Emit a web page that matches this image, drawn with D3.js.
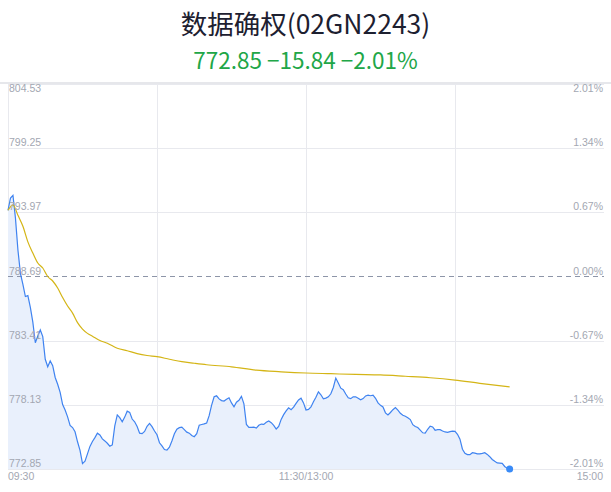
<!DOCTYPE html>
<html lang="zh">
<head>
<meta charset="UTF-8">
<title>数据确权(02GN2243)</title>
<script src="https://d3js.org/d3.v7.min.js"></script>
<style>
  html, body { margin: 0; padding: 0; background: #fff; }
  svg { display: block; }
  .tick-label { font-family: "Liberation Sans", Arial, sans-serif; font-size: 10.5px; fill: #a3a7b2; }
</style>
</head>
<body>
<div id="chart"></div>
<script>
// 分时数据: 每分钟一个点, 从 09:30 开始
const prices = [
  794.14, 795.15, 795.37, 793.49, 790.87, 788.95, 788.05, 787.04, 787.12, 786.15,
  784.94, 783.24, 783.80, 784.29, 783.74, 781.88, 781.26, 781.74, 781.35, 780.38,
  779.82, 779.16, 778.15, 777.70, 777.14, 776.44, 776.26, 775.91, 775.09, 774.38,
  773.29, 773.49, 774.09, 774.71, 775.11, 775.43, 775.80, 775.65, 775.33, 775.16,
  774.97, 774.73, 774.83, 776.40, 777.30, 777.07, 776.73, 777.12, 777.61, 777.51,
  776.96, 776.74, 776.35, 775.80, 775.76, 775.94, 776.36, 776.60, 776.34, 775.98,
  775.67, 775.01, 774.75, 774.45, 774.41, 774.64, 775.16, 775.75, 776.13, 776.25,
  776.29, 776.09, 775.88, 775.80, 775.61, 775.51, 775.76, 776.46, 776.51, 776.56,
  776.64, 777.24, 778.10, 778.79, 778.87, 778.62, 778.48, 778.44, 778.59, 778.71,
  778.29, 777.96, 778.35, 778.50, 778.83, 778.21, 776.52, 776.27, 776.28, 776.30,
  776.22, 776.45, 776.55, 776.52, 776.69, 776.80, 776.66, 776.44, 776.14, 776.36,
  776.93, 777.32, 777.63, 777.88, 777.73, 777.94, 778.25, 778.53, 778.68, 778.29,
  777.70, 777.75, 777.96, 778.38, 778.76, 779.20, 778.96, 778.62, 778.68, 778.79,
  779.04, 779.56, 780.33, 779.93, 779.50, 779.38, 779.02, 778.71, 778.64, 778.79,
  778.79, 778.67, 778.54, 778.64, 778.86, 778.92, 778.88, 778.93, 778.67, 778.29,
  778.09, 777.96, 777.47, 777.29, 777.50, 777.73, 777.90, 777.69, 777.43, 777.27,
  777.19, 777.07, 776.92, 776.50, 776.35, 776.26, 776.05, 775.83, 775.80, 776.12,
  776.37, 776.31, 776.04, 776.09, 776.09, 775.98, 775.90, 775.86, 775.92, 775.96,
  775.94, 775.71, 775.30, 774.48, 774.15, 774.04, 774.03, 774.19, 774.15, 774.09,
  774.09, 774.13, 774.19, 774.05, 773.86, 773.63, 773.48, 773.35, 773.34, 773.31,
  773.06, 772.92, 772.85
];

// 均价线 (分钟序号, 均价)
const avgMinutes = [0, 2, 4, 6, 8, 10, 12, 14, 16, 18, 20, 22, 24, 26, 28, 30, 32, 34, 37, 40,
  44, 48, 52, 56, 60, 65, 70, 75, 80, 90, 100, 110, 120, 130, 140, 150, 160, 170, 180, 190, 202];
const avgPrices = [794.14, 794.59, 793.72, 792.82, 791.54, 790.62, 789.80, 789.39, 788.69, 788.32,
  787.74, 786.96, 786.26, 785.68, 784.89, 784.36, 784.01, 783.78, 783.43, 783.20,
  782.79, 782.58, 782.35, 782.19, 782.09, 781.88, 781.68, 781.55, 781.43, 781.26,
  780.98, 780.85, 780.75, 780.69, 780.63, 780.59, 780.48, 780.36, 780.17, 779.90, 779.61];

const prevClose = 788.69;
const priceTicks = [804.53, 799.25, 793.97, 788.69, 783.41, 778.13, 772.85];
const pctTicks = ["2.01%", "1.34%", "0.67%", "0.00%", "-0.67%", "-1.34%", "-2.01%"];
const timeTicks = [0, 120, 240];
const timeLabels = ["09:30", "11:30/13:00", "15:00"];
const gridMinutes = [60, 120, 180];

const title = "数据确权(02GN2243)";
const subtitle = "772.85 \u221215.84 \u22122.01%";

const W = 611, H = 492;
const plot = {left: 8, right: 604, top: 84, bottom: 469};

const svg = d3.select("#chart").append("svg")
  .attr("width", W).attr("height", H);

svg.append("text")
  .attr("x", W / 2).attr("y", 34)
  .attr("text-anchor", "middle")
  .attr("font-family", "'Noto Sans CJK SC', sans-serif")
  .attr("font-size", 26.5)
  .attr("fill", "#1d2030")
  .text(title);

svg.append("text")
  .attr("x", W / 2).attr("y", 69)
  .attr("text-anchor", "middle")
  .attr("font-family", "'Noto Sans CJK SC', sans-serif")
  .attr("font-size", 22.5)
  .attr("fill", "#21a647")
  .text(subtitle);

const x = d3.scaleLinear().domain([0, 240]).range([plot.left, plot.right]);
const y = d3.scaleLinear().domain([772.85, 804.53]).range([plot.bottom, plot.top]);

// 顶部分隔线
svg.append("line")
  .attr("x1", 0).attr("x2", W).attr("y1", plot.top - 1).attr("y2", plot.top - 1)
  .attr("stroke", "#e6e7eb").attr("stroke-width", 2);

// 横向网格
svg.append("g").selectAll("line")
  .data(priceTicks.filter(d => d !== prevClose))
  .join("line")
  .attr("x1", plot.left).attr("x2", plot.right)
  .attr("y1", d => Math.round(y(d)) + 0.5).attr("y2", d => Math.round(y(d)) + 0.5)
  .attr("stroke", "#e8e9ee");

// 纵向网格
svg.append("g").selectAll("line")
  .data([0].concat(gridMinutes))
  .join("line")
  .attr("x1", d => Math.round(x(d)) + 0.5).attr("x2", d => Math.round(x(d)) + 0.5)
  .attr("y1", plot.top).attr("y2", plot.bottom)
  .attr("stroke", "#e8e9ee");

// 面积和价格线
const area = d3.area()
  .x((d, i) => x(i))
  .y0(plot.bottom)
  .y1(d => y(d));

svg.append("path")
  .datum(prices)
  .attr("fill", "#e9f0fc")
  .attr("d", area);

// 昨收虚线
svg.append("line")
  .attr("x1", plot.left).attr("x2", plot.right)
  .attr("y1", y(prevClose)).attr("y2", y(prevClose))
  .attr("stroke", "#8d95a8")
  .attr("stroke-dasharray", "5,4");

const line = d3.line()
  .x((d, i) => x(i))
  .y(d => y(d));

svg.append("path")
  .datum(prices)
  .attr("fill", "none")
  .attr("stroke", "#3f83f0")
  .attr("stroke-width", 1.2)
  .attr("d", line);

const avgLine = d3.line()
  .x((d, i) => x(avgMinutes[i]))
  .y(d => y(d))
  .curve(d3.curveMonotoneX);

svg.append("path")
  .datum(avgPrices)
  .attr("fill", "none")
  .attr("stroke", "#d4b516")
  .attr("stroke-width", 1.2)
  .attr("d", avgLine);

const last = prices.length - 1;
svg.append("circle")
  .attr("cx", x(last)).attr("cy", y(prices[last]))
  .attr("r", 3.5)
  .attr("fill", "#3a8bf7");

// 左侧价格标签
svg.append("g").selectAll("text")
  .data(priceTicks)
  .join("text")
  .attr("class", "tick-label")
  .attr("x", plot.left + 1)
  .attr("y", (d, i) => i === 0 ? y(d) + 8 : y(d) - 2)
  .text(d => d.toFixed(2));

// 右侧涨跌幅标签
svg.append("g").selectAll("text")
  .data(priceTicks)
  .join("text")
  .attr("class", "tick-label")
  .attr("text-anchor", "end")
  .attr("x", plot.right - 1)
  .attr("y", (d, i) => i === 0 ? y(d) + 8 : y(d) - 2)
  .text((d, i) => pctTicks[i]);

// 时间标签
svg.append("g").selectAll("text")
  .data(timeTicks)
  .join("text")
  .attr("class", "tick-label")
  .attr("text-anchor", (d, i) => i === 0 ? "start" : i === timeTicks.length - 1 ? "end" : "middle")
  .attr("x", (d, i) => i === timeTicks.length - 1 ? x(d) - 1 : x(d))
  .attr("y", plot.bottom + 11)
  .text((d, i) => timeLabels[i]);
</script>
</body>
</html>
